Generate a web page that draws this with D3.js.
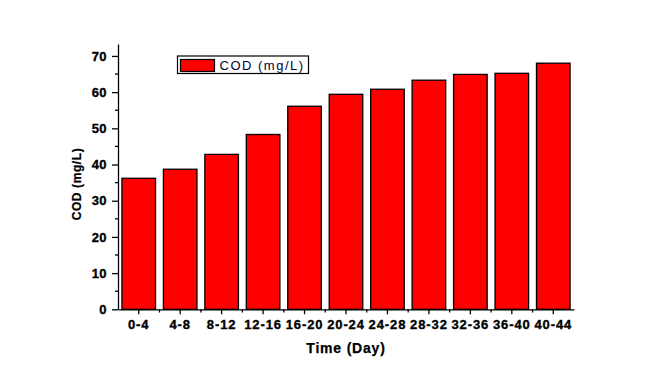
<!DOCTYPE html>
<html><head><meta charset="utf-8">
<script src="https://cdn.jsdelivr.net/npm/d3@7"></script>
<style>body{margin:0;background:#fff}svg{display:block}</style>
</head><body>
<svg id="c" width="668" height="371"></svg>
<script>
const categories = ["0-4","4-8","8-12","12-16","16-20","20-24","24-28","28-32","32-36","36-40","40-44"];
const codValues = [36.2, 38.7, 42.8, 48.3, 56.1, 59.4, 60.8, 63.3, 64.9, 65.2, 68.0];
const yTicks = [0,10,20,30,40,50,60,70];
const yMinorTicks = [5,15,25,35,45,55,65];
const seriesName = "COD (mg/L)";

const svg = d3.select("#c");
const xc = d3.scaleBand().domain(categories).range([118, 574]);
const y = d3.scaleLinear().domain([0, 73.3]).range([309.3, 44]);
const barW = xc.bandwidth() * 0.81;

// bars
svg.append("g").selectAll("rect").data(codValues).join("rect")
  .attr("x", (d,i)=>xc(categories[i]) + xc.bandwidth()/2 - barW/2)
  .attr("width", barW)
  .attr("y", d=>y(d))
  .attr("height", d=>y(0)-y(d))
  .attr("fill","#ff0000").attr("stroke","#000").attr("stroke-width",1.3);

const tickFont = sel => sel.attr("font-family","Liberation Sans, Arial, sans-serif")
  .attr("font-weight","bold").attr("fill","#000").attr("stroke","#000").attr("stroke-width",0.35);

// y axis
const ya = svg.append("g").attr("transform","translate(118,0)")
  .call(d3.axisLeft(y).tickValues(yTicks).tickSize(6).tickSizeOuter(0).tickPadding(5));
ya.select(".domain").attr("stroke-width",1.3);
ya.selectAll(".tick line").attr("stroke-width",1.3);
ya.selectAll(".tick text").call(tickFont).attr("font-size",13).attr("letter-spacing","0.4px");
svg.append("g").selectAll("line").data(yMinorTicks).join("line")
  .attr("x1",115).attr("x2",118).attr("y1",d=>y(d)).attr("y2",d=>y(d))
  .attr("stroke","#000").attr("stroke-width",1.3);

// x axis
const xa = svg.append("g").attr("transform","translate(0,309.3)")
  .call(d3.axisBottom(xc).tickSize(5).tickSizeOuter(0).tickPadding(5));
xa.select(".domain").attr("stroke-width",1.3);
xa.selectAll(".tick line").attr("stroke-width",1.3);
xa.selectAll(".tick text").call(tickFont).attr("font-size",13).attr("letter-spacing","0.9px");
svg.append("g").selectAll("line").data(categories.slice(1)).join("line")
  .attr("x1",d=>xc(d)).attr("x2",d=>xc(d)).attr("y1",309.3).attr("y2",312.5)
  .attr("stroke","#000").attr("stroke-width",1.3);

// axis titles
svg.append("text").attr("x",346).attr("y",353).attr("text-anchor","middle")
  .call(tickFont).attr("stroke-width",0.25)
  .attr("font-size",14).attr("letter-spacing","0.8px").text("Time (Day)");
svg.append("text").attr("transform","translate(81,184) rotate(-90)").attr("text-anchor","middle")
  .call(tickFont).attr("stroke-width",0.25)
  .attr("font-size",12).attr("letter-spacing","0.6px").text("COD (mg/L)");

// legend
const lg = svg.append("g");
lg.append("rect").attr("x",177.5).attr("y",56).attr("width",131).attr("height",17.5)
  .attr("fill","#fff").attr("stroke","#000").attr("stroke-width",1.2);
lg.append("rect").attr("x",180.5).attr("y",59.5).attr("width",34).attr("height",12)
  .attr("fill","#ff0000").attr("stroke","#000").attr("stroke-width",1.2);
lg.append("text").attr("x",219.5).attr("y",69.5)
  .attr("font-family","Liberation Sans, Arial, sans-serif").attr("font-size",13)
  .attr("letter-spacing","1.5px").attr("fill","#000033").text(seriesName);
</script>
</body></html>
